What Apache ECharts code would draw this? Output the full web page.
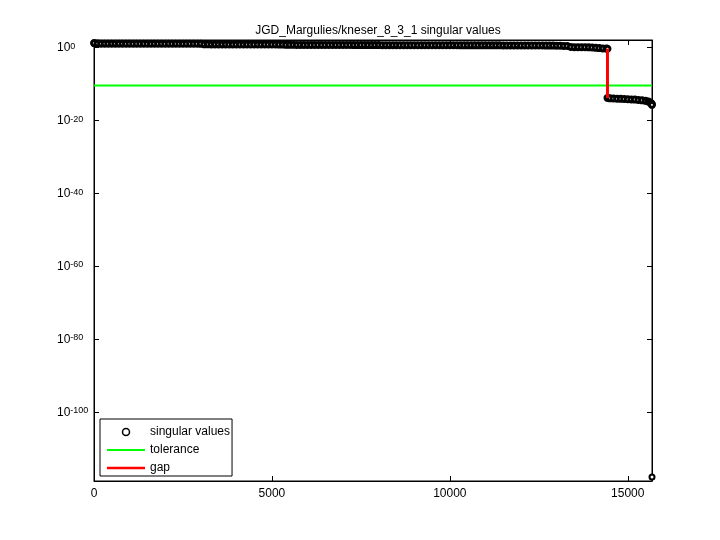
<!DOCTYPE html>
<html>
<head>
<meta charset="utf-8">
<script src="https://cdn.jsdelivr.net/npm/echarts@6/dist/echarts.min.js"></script>
<style>html,body{margin:0;padding:0;background:#fff;}#c{width:720px;height:540px;}</style>
</head>
<body>
<div id="c"></div>
<script>
var titleText = 'JGD_Margulies/kneser_8_3_1 singular values';
var nCols = 15681;
var xTicks = [0, 5000, 10000, 15000];
var yTickExps = [0, -20, -40, -60, -80, -100];
var yMin = 1e-119, yMax = 1e2;

var svIndex = [
  1, 100, 200, 300, 400, 500, 600, 700, 800, 900, 1000,
  1100, 1200, 1300, 1400, 1500, 1600, 1700, 1800, 1900, 2000,
  2100, 2200, 2300, 2400, 2500, 2600, 2700, 2800, 2900, 3000,
  3100, 3200, 3300, 3400, 3500, 3600, 3700, 3800, 3900, 4000,
  4100, 4200, 4300, 4400, 4500, 4600, 4700, 4800, 4900, 5000,
  5100, 5200, 5300,
  5400, 5500, 5600, 5700, 5800, 5900, 6000, 6100, 6200, 6300,
  6400, 6500, 6600, 6700, 6800, 6900, 7000, 7100, 7200, 7300,
  7400, 7500, 7600, 7700, 7800, 7900, 8000, 8100, 8200, 8300,
  8400, 8500, 8600, 8700, 8800, 8900, 9000, 9100, 9200, 9300,
  9400, 9500, 9600, 9700, 9800, 9900, 10000, 10100, 10200, 10300,
  10400, 10500, 10600, 10700, 10800, 10900, 11000, 11100, 11200, 11300,
  11400, 11500, 11600, 11700, 11800, 11900, 12000, 12100, 12200, 12300,
  12400, 12500, 12600, 12700, 12800, 12900, 13000, 13100, 13200, 13300,
  13400, 13500, 13600, 13700, 13800, 13900, 14000,
  14100, 14200, 14300, 14400, 14430,
  14431, 14500, 14600, 14700, 14800, 14900, 15000, 15100, 15200, 15300,
  15400, 15500, 15580, 15630, 15660, 15675, 15680, 15681
];
var svValue = [
  14.5, 10.2, 10.1, 10.1, 10.0, 10.0, 9.9, 9.9, 9.9, 9.8, 9.8,
  9.8, 9.7, 9.7, 9.7, 9.6, 9.6, 9.6, 9.5, 9.5, 9.5,
  9.4, 9.4, 9.4, 9.3, 9.3, 9.2, 9.2, 9.1, 9.1, 9.0,
  6.4, 6.4, 6.3, 6.3, 6.3, 6.2, 6.2, 6.1, 6.1, 6.1,
  6.0, 6.0, 6.0, 5.9, 5.9, 5.9, 5.8, 5.8, 5.8, 5.7,
  5.7, 5.6, 5.6,
  4.6, 4.6, 4.6, 4.5, 4.5, 4.5, 4.5, 4.4, 4.4, 4.4,
  4.4, 4.3, 4.3, 4.3, 4.3, 4.2, 4.2, 4.2, 4.2, 4.1,
  4.1, 4.1, 4.1, 4.0, 4.0, 4.0, 4.0, 3.9, 3.9, 3.9,
  3.9, 3.9, 3.8, 3.8, 3.8, 3.8, 3.8, 3.7, 3.7, 3.7,
  3.7, 3.7, 3.7, 3.6, 3.6, 3.6, 3.6, 3.6, 3.6, 3.5,
  3.5, 3.5, 3.5, 3.5, 3.5, 3.4, 3.4, 3.4, 3.4, 3.4,
  3.4, 3.3, 3.3, 3.3, 3.3, 3.3, 3.2, 3.2, 3.2, 3.2,
  3.1, 3.1, 3.1, 3.0, 3.0, 2.9, 2.8, 2.6, 2.4, 2.2,
  1.2, 1.1, 1.1, 1.0, 1.0, 0.95, 0.9,
  0.7, 0.6, 0.5, 0.45, 0.4,
  1.26e-14, 1.0e-14, 8.9e-15, 7.9e-15, 7.1e-15, 6.3e-15, 5.6e-15, 5.0e-15, 4.5e-15, 3.5e-15,
  2.8e-15, 2.0e-15, 1.26e-15, 7.1e-16, 4.0e-16, 2.5e-16, 1.6e-16, 1.2e-118
];
var tolerance = 3.5e-11;
var gapRank = 14430;

var FONT = 'Liberation Sans';
var last = svIndex.length - 1;
var svData = svIndex.map(function (x, i) {
  if (i === last) {
    return { value: [x, svValue[i]], symbolSize: 5, itemStyle: { borderWidth: 2 } };
  }
  return [x, svValue[i]];
});
var r = svIndex.indexOf(gapRank);
var gapData = [[gapRank, svValue[r]], [gapRank, svValue[r + 1]]];
var tolData = [[0, tolerance], [nCols, tolerance]];
var yTickVals = yTickExps.map(function (e) { return Math.pow(10, e); });

function yFmt(v) {
  var e = Math.round(Math.log(v) / Math.LN10);
  return '{b|10}{s|' + e + '}';
}

function ticks(vals) {
  return { show: true, inside: true, length: 5, customValues: vals, lineStyle: { color: '#000', width: 1 } };
}
var axLine = { show: true, onZero: false, lineStyle: { color: '#000', width: 1 } };

var chart = echarts.init(document.getElementById('c'));
chart.setOption({
  animation: false,
  backgroundColor: '#fff',
  title: {
    text: titleText, left: 373, top: 20, textAlign: 'center',
    textStyle: { fontFamily: FONT, fontSize: 12, fontWeight: 'normal', color: '#000' }
  },
  grid: { left: 94, right: 68, top: 40, bottom: 59, containLabel: false,
    show: true, borderColor: '#000', borderWidth: 1, backgroundColor: 'transparent' },
  legend: {
    orient: 'vertical', left: 100, top: 419,
    backgroundColor: '#fff', borderColor: '#000', borderWidth: 1, borderRadius: 0,
    padding: [7, 2, 2, 7], itemGap: 6, itemWidth: 38, itemHeight: 7,
    textStyle: { fontFamily: FONT, fontSize: 12, color: '#000' },
    data: [
      { name: 'singular values', icon: 'circle', itemStyle: { color: '#fff', borderColor: '#000', borderWidth: 1.5 } },
      { name: 'tolerance', icon: 'path://M0,0L38,0L38,2L0,2Z' },
      { name: 'gap', icon: 'path://M0,0L38,0L38,2.5L0,2.5Z' }
    ]
  },
  xAxis: [{
    type: 'value', min: 0, max: nCols, position: 'bottom',
    axisLine: axLine,
    axisTick: ticks(xTicks),
    axisLabel: { color: '#000', fontFamily: FONT, fontSize: 12, margin: 7, customValues: xTicks,
      formatter: function (v) { return String(v); } },
    splitLine: { show: false }
  }, {
    type: 'value', min: 0, max: nCols, position: 'top', show: true,
    axisLine: axLine,
    axisTick: ticks(xTicks),
    axisLabel: { show: false }, splitLine: { show: false }
  }],
  yAxis: [{
    type: 'log', logBase: 10, min: yMin, max: yMax, position: 'left',
    axisLine: axLine,
    axisTick: ticks(yTickVals),
    axisLabel: {
      formatter: yFmt, color: '#000', margin: 37, align: 'left', padding: [1, 0, 0, 0], customValues: yTickVals,
      rich: {
        b: { fontFamily: FONT, fontSize: 12, color: '#000', lineHeight: 12, verticalAlign: 'bottom' },
        s: { fontFamily: FONT, fontSize: 9, color: '#000', lineHeight: 9, verticalAlign: 'top', padding: [0, 0, 8, 0] }
      }
    },
    splitLine: { show: false }, minorTick: { show: false }
  }, {
    type: 'log', logBase: 10, min: yMin, max: yMax, position: 'right', show: true,
    axisLine: axLine,
    axisTick: ticks(yTickVals),
    axisLabel: { show: false }, splitLine: { show: false }
  }],
  series: [{
    name: 'singular values', type: 'scatter', data: svData,
    xAxisIndex: 0, yAxisIndex: 0,
    symbol: 'circle', symbolSize: 5,
    itemStyle: { color: '#fff', borderColor: '#000', borderWidth: 3, opacity: 1 },
    z: 2
  }, {
    name: 'tolerance', type: 'line', data: tolData, symbol: 'none', showSymbol: false,
    xAxisIndex: 1, yAxisIndex: 1,
    lineStyle: { color: '#00ff00', width: 2 }, itemStyle: { color: '#00ff00' }, z: 3
  }, {
    name: 'gap', type: 'line', data: gapData, symbol: 'none', showSymbol: false,
    xAxisIndex: 0, yAxisIndex: 0,
    lineStyle: { color: '#ff0000', width: 3 }, itemStyle: { color: '#ff0000' }, z: 4
  }]
});
</script>
</body>
</html>
